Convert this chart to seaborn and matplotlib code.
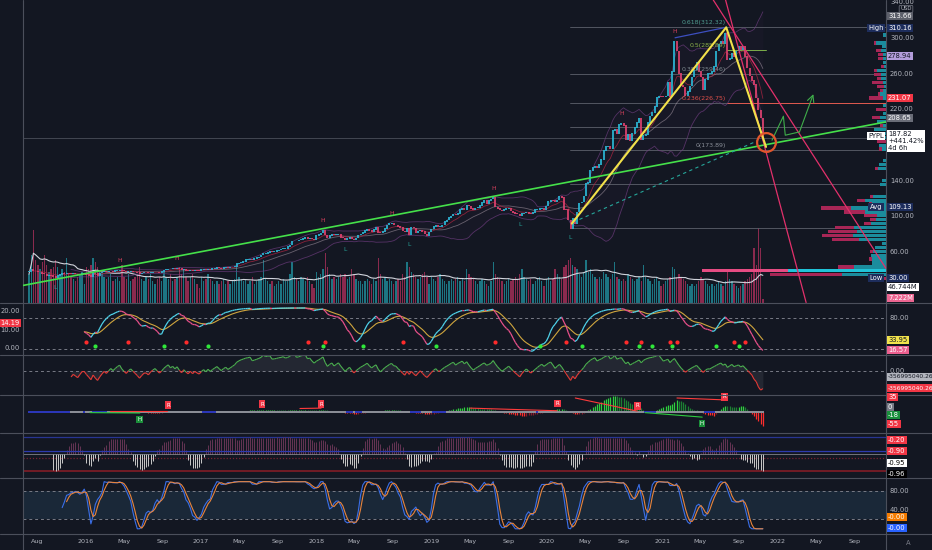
import numpy as np
import pandas as pd
import matplotlib
matplotlib.use("Agg")
import matplotlib.pyplot as plt
import matplotlib.dates as mdates
import matplotlib.transforms as mtrans
from matplotlib.collections import LineCollection
from matplotlib.lines import Line2D
from matplotlib import font_manager
import seaborn as sns

# ---------------- data (weekly PYPL, USD) ----------------
start_week = "2015-07-06"

close_2015 = [38.5, 40.5, 39.0, 38.7, 37.6, 37.9, 36.0, 35.5, 34.0, 34.6, 33.8, 32.8, 31.3,
              33.9, 35.0, 36.4, 36.0, 36.8, 36.0, 35.4, 36.0, 35.6, 35.0, 35.4, 36.2, 36.2]
close_2016 = [34.8, 34.0, 33.0, 36.1, 35.8, 34.0, 36.5, 37.6, 38.2, 38.0, 38.8, 39.0, 38.6,
              39.3, 39.4, 40.1, 39.5, 39.0, 38.3, 38.6, 38.8, 37.8, 37.7, 37.2, 36.0, 36.5,
              37.8, 37.8, 37.0, 37.2, 37.8, 37.9, 37.6, 37.1, 38.0, 40.0, 40.3, 41.3, 41.0,
              41.5, 41.2, 41.8, 41.6, 40.0, 40.7, 39.3, 39.1, 39.6, 39.0, 39.9, 39.6, 39.5]
close_2017 = [40.5, 40.8, 40.2, 40.9, 40.4, 41.5, 42.0, 42.5, 42.4, 42.0, 43.0, 43.2, 43.0,
              43.2, 43.5, 44.0, 47.0, 47.8, 48.5, 49.8, 51.5, 52.0, 52.5, 51.0, 53.0, 53.7,
              54.5, 56.6, 58.5, 58.5, 59.6, 60.5, 60.0, 61.0, 61.8, 62.3, 63.6, 64.0, 64.0,
              66.0, 68.0, 72.5, 72.6, 72.5, 73.5, 74.0, 75.0, 76.5, 74.5, 75.5, 74.7, 73.6]
close_2018 = [78.5, 80.0, 81.5, 84.5, 79.0, 76.5, 78.5, 80.5, 79.5, 80.0, 80.5, 76.5, 75.9,
              73.7, 75.5, 76.5, 74.5, 73.5, 76.0, 79.0, 80.5, 82.0, 84.0, 85.0, 84.5, 83.3,
              85.5, 87.5, 82.0, 81.5, 83.0, 86.5, 90.5, 92.2, 92.5, 90.5, 90.5, 88.5, 87.8,
              83.5, 83.0, 86.5, 79.5, 88.0, 87.0, 81.5, 83.8, 84.0, 83.0, 80.5, 78.0, 82.5]
close_2019 = [86.0, 88.5, 89.5, 88.5, 88.5, 90.5, 94.0, 96.0, 98.5, 100.5, 102.0, 101.5, 103.5,
              107.5, 109.0, 107.0, 112.5, 111.5, 108.5, 107.5, 109.5, 109.8, 112.0, 115.5,
              117.5, 114.5, 117.5, 119.5, 121.0, 110.5, 108.5, 107.0, 106.5, 107.5, 109.0,
              109.5, 106.0, 104.5, 103.5, 102.5, 101.0, 103.0, 104.0, 105.0, 103.5, 102.5,
              104.5, 107.5, 108.0, 108.5, 109.5, 108.0]
close_2020 = [111.5, 116.5, 118.0, 117.5, 116.0, 118.5, 122.5, 121.0, 108.0, 107.5, 96.0, 86.5,
              97.5, 92.0, 105.0, 115.0, 116.0, 123.0, 137.0, 138.0, 151.5, 155.0, 156.0, 154.0,
              158.0, 164.0, 174.0, 178.0, 178.5, 176.0, 196.0, 198.0, 193.0, 203.0, 204.5,
              201.5, 186.0, 192.0, 185.0, 193.0, 199.5, 205.0, 210.0, 186.0, 190.5, 192.0,
              205.0, 212.5, 216.0, 223.0, 233.0, 235.0]
close_2021 = [234.2, 234.0, 235.0, 250.0, 234.3, 262.0, 296.0, 285.0, 259.9, 247.0, 245.0,
              235.0, 240.0, 246.0, 256.0, 264.0, 273.0, 262.3, 256.0, 241.5, 253.0, 260.0,
              260.0, 262.0, 268.0, 285.0, 293.0, 296.0, 293.5, 305.0, 275.5, 276.5, 283.0,
              279.0, 285.0, 290.0, 287.0, 290.0, 279.0, 266.0, 257.0, 252.0, 248.0, 232.6,
              219.0, 210.0, 187.82]

# weekly volume, millions of shares
vol_2015 = [60, 100, 153, 90, 80, 70, 85, 100, 80, 65, 70, 75, 90, 75, 60, 70, 65, 95, 60,
            55, 50, 45, 55, 60, 65, 40]
vol_2016 = [75, 70, 80, 95, 85, 75, 65, 60, 55, 50, 55, 60, 45, 50, 55, 45, 80, 55, 50, 60,
            45, 50, 55, 60, 75, 50, 45, 55, 50, 60, 45, 40, 50, 55, 45, 65, 55, 50, 60, 45,
            50, 55, 75, 60, 70, 55, 45, 55, 60, 50, 40, 30]
vol_2017 = [55, 45, 50, 60, 50, 45, 40, 45, 40, 45, 50, 40, 45, 40, 45, 50, 80, 55, 50, 45,
            50, 40, 45, 55, 40, 45, 50, 55, 90, 50, 45, 40, 45, 35, 40, 45, 40, 50, 45, 45,
            60, 85, 55, 50, 45, 55, 50, 45, 55, 45, 40, 30]
vol_2018 = [65, 55, 60, 70, 105, 75, 60, 50, 55, 50, 55, 60, 55, 60, 50, 55, 70, 60, 50, 45,
            45, 40, 45, 50, 45, 40, 50, 45, 95, 60, 50, 55, 45, 50, 45, 40, 45, 50, 45, 60,
            55, 85, 75, 65, 60, 55, 50, 55, 60, 65, 55, 40]
vol_2019 = [55, 50, 45, 55, 60, 50, 45, 40, 45, 50, 45, 50, 55, 45, 50, 45, 70, 60, 55, 50,
            45, 40, 45, 50, 45, 40, 35, 45, 85, 60, 55, 50, 45, 40, 45, 50, 45, 50, 55, 50,
            60, 70, 55, 50, 45, 50, 40, 45, 50, 55, 45, 35]
vol_2020 = [50, 55, 45, 50, 70, 60, 55, 50, 75, 80, 90, 95, 80, 75, 70, 60, 55, 65, 90, 65,
            70, 60, 55, 50, 55, 50, 65, 60, 55, 50, 60, 85, 55, 50, 45, 50, 45, 60, 55, 50,
            45, 50, 55, 45, 80, 55, 50, 45, 40, 50, 55, 45]
vol_2021 = [35, 40, 45, 50, 55, 75, 70, 55, 60, 55, 50, 45, 40, 35, 40, 35, 40, 45, 55, 50,
            45, 40, 35, 40, 35, 40, 45, 40, 35, 45, 70, 50, 45, 40, 35, 30, 35, 40, 45, 50,
            55, 60, 115, 80, 157, 115, 7.222]

weekly_close = close_2015 + close_2016 + close_2017 + close_2018 + close_2019 + close_2020 + close_2021
weekly_volume = vol_2015 + vol_2016 + vol_2017 + vol_2018 + vol_2019 + vol_2020 + vol_2021

# drawings on the price pane (date, price)
trend_dates, trend_prices = ["2015-06-17", "2022-12-10"], [22.7, 205.8]
dash_dates, dash_prices = ["2020-03-25", "2021-10-31"], [93.6, 185.0]
zigzag_dates, zigzag_prices = ["2020-03-20", "2021-07-22", "2021-11-25"], [92.0, 311.7, 177.8]
blue_dates, blue_prices = ["2021-02-10", "2021-07-22"], [300.0, 311.7]
pink1_dates, pink1_prices = ["2021-07-20", "2022-04-01"], [342.3, 3.6]
pink2_dates, pink2_prices = ["2021-06-11", "2022-12-10"], [342.3, 41.7]
arrow_dates = ["2021-12-14", "2022-01-19", "2022-01-25", "2022-03-11", "2022-04-24"]
arrow_prices = [185.3, 212.2, 190.9, 194.6, 236.9]
circle_date, circle_price = "2021-11-25", 183.5
fib_start = "2020-03-15"
fib_levels = [312.32, 259.46, 226.75, 200.2, 173.89, 136.0, 86.6]
fib_names = ["0.618(312.32)", "0.5(285.89)", "0.382(259.46)", "0.236(226.75)", "0(173.89)"]
fib_label_prices = [312.32, 285.89, 259.46, 226.75, 173.89]
pivot_high_dates = ["2016-04-09", "2016-10-10", "2018-01-18", "2018-08-22", "2019-07-03",
                    "2020-08-20", "2021-02-07"]
pivot_low_dates = ["2015-09-26", "2018-03-27", "2018-11-15", "2019-10-08", "2020-03-12"]

# divergence marks on the squeeze pane (date, fraction of pane height)
div_red = [(("2016-03-18", .57), ("2016-09-15", .57)), (("2017-11-10", .64), ("2018-01-16", .65)),
           (("2019-05-03", .65), ("2020-02-02", .58)), (("2020-03-31", .92), ("2020-10-13", .57)),
           (("2021-02-16", .92), ("2021-07-16", .87))]
div_green = [(("2016-01-15", .53), ("2016-06-21", .52)), (("2020-11-07", .53), ("2021-05-07", .41))]
r_labels = [("2016-09-18", .73), ("2017-07-13", .76), ("2018-01-16", .76), ("2020-02-04", .77),
            ("2020-10-14", .71), ("2021-07-16", .95)]
h_labels = [("2016-06-21", .35), ("2021-05-06", .24)]

tick_dates = ["2015-08-01", "2016-01-01", "2016-05-01", "2016-09-01", "2017-01-01", "2017-05-01",
              "2017-09-01", "2018-01-01", "2018-05-01", "2018-09-01", "2019-01-01", "2019-05-01",
              "2019-09-01", "2020-01-01", "2020-05-01", "2020-09-01", "2021-01-01", "2021-05-01",
              "2021-09-01", "2022-01-01", "2022-05-01", "2022-09-01"]
tick_labels = ["Aug", "2016", "May", "Sep", "2017", "May", "Sep", "2018", "May", "Sep", "2019",
               "May", "Sep", "2020", "May", "Sep", "2021", "May", "Sep", "2022", "May", "Sep"]
price_ticks = [340, 300, 260, 220, 140, 100, 60]

# ---------------- style ----------------
sns.set_theme(style="dark")
installed = {f.name for f in font_manager.fontManager.ttflist}
narrow = "Liberation Sans Narrow" in installed
FONT = "Liberation Sans Narrow" if narrow else "DejaVu Sans"
FS = 5.8 if narrow else 4.9
plt.rcParams["font.family"] = [FONT, "DejaVu Sans"]

BG = "#131722"
TXT = "#b2b5be"
SEP = "#4b4f5b"
W, H = 932, 550


def dn(s):
    return mdates.date2num(pd.Timestamp(s))


x0, x1 = dn("2015-06-17"), dn("2022-12-10")
days_per_px = (x1 - x0) / 863

dates = pd.date_range(start_week, periods=len(weekly_close), freq="W-MON")
d = mdates.date2num(dates)
close = pd.Series(weekly_close, index=dates, dtype=float)
vol = pd.Series(weekly_volume, index=dates, dtype=float)
opens = close.shift(1).fillna(close.iloc[0])
c = close.to_numpy()
o = opens.to_numpy()
up = c >= o

fig = plt.figure(figsize=(9.32, 5.5), dpi=100, facecolor=BG)


def panel(top, bottom):
    ax = fig.add_axes([23 / W, 1 - bottom / H, 863 / W, (bottom - top) / H])
    ax.set_facecolor("none")
    for s in ax.spines.values():
        s.set_visible(False)
    ax.set_xticks([])
    ax.set_yticks([])
    ax.grid(False)
    return ax


def ftext(xp, yp, s, color=TXT, fc=None, ha="left", va="center", size=None, bbox=None, **kw):
    if fc:
        bbox = dict(boxstyle="square,pad=0.22", fc=fc, ec="none")
    return fig.text(xp / W, 1 - yp / H, s, color=color, ha=ha, va=va,
                    fontsize=size or FS, bbox=bbox, zorder=10, **kw)


def ytick(ax, v, s):
    tr = mtrans.blended_transform_factory(fig.transFigure, ax.transData)
    ax.text(890 / W, v, s, transform=tr, color=TXT, fontsize=FS, va="center", clip_on=False)


def colored_line(ax, x, y, colors, lw):
    pts = np.column_stack([x, y])
    segs = np.stack([pts[:-1], pts[1:]], axis=1)
    ok = ~np.isnan(segs).any(axis=(1, 2))
    ax.add_collection(LineCollection(segs[ok], colors=np.asarray(colors)[ok], linewidths=lw, zorder=3))


def stoch(s, n):
    lo = s.rolling(n).min()
    hi = s.rolling(n).max()
    return 100 * (s - lo) / (hi - lo)


# ---------------- main price pane ----------------
ax1 = panel(0, 302.5)
axv = ax1.twinx()
for s in axv.spines.values():
    s.set_visible(False)
axv.set_yticks([])
axv.set_facecolor("none")
ax1.set_zorder(3)
ax1.patch.set_visible(False)

vol_cols = np.where(up, "#1d7583", "#8a2a4e")
axv.bar(d, vol.to_numpy(), width=4.3, color=vol_cols, linewidth=0)
vol_ma = vol.rolling(20, min_periods=1).mean()
sns.lineplot(x=d, y=vol_ma.to_numpy(), ax=axv, color="#d1d4dc", linewidth=0.8)
axv.set_ylim(0, 640)
axv.set_xlim(x0, x1)

# bollinger / averages
sma20 = close.rolling(20).mean()
sd20 = close.rolling(20).std()
bb_up, bb_lo = sma20 + 2 * sd20, sma20 - 2 * sd20
ema9 = close.ewm(span=9, adjust=False).mean()
ax1.fill_between(d, bb_lo.to_numpy(), bb_up.to_numpy(), color="#7b3a8f", alpha=0.04, lw=0)
for ser, col, a in [(bb_up, "#6f3d80", .7), (bb_lo, "#6f3d80", .7), (sma20, "#b9a9b6", .5)]:
    ax1.plot(d, ser.to_numpy(), color=col, lw=0.6, alpha=a, zorder=2)
ax1.plot(d, ema9.to_numpy(), color="#a8243f", lw=0.6, alpha=0.8, zorder=2)

# current price line
ax1.axhline(c[-1], color="#4a4e5a", lw=0.6, zorder=1)

# fib grid
fs0 = dn(fib_start)
for lv in fib_levels:
    ax1.plot([fs0, x1], [lv, lv], color="#5d606b", lw=0.6, zorder=1)
ax1.plot([dn("2021-07-23"), x1], [226.75, 226.75], color="#e0594e", lw=0.7, zorder=1)
ax1.plot([dn("2021-07-23"), dn("2021-11-24")], [285.89, 285.89], color="#7cae4a", lw=0.7, zorder=1)
fib_cols = ["#4f9a8e", "#8db04a", "#7f8a90", "#e0504a", "#8a8f99"]
for name, p, col in zip(fib_names, fib_label_prices, fib_cols):
    ax1.annotate(name, (dn("2021-07-20"), p), xytext=(0, 1.5), textcoords="offset points",
                 ha="right", va="bottom", color=col, fontsize=FS - 0.4, zorder=4)

# candles
lo_b = np.minimum(o, c) - 0.35
hi_b = np.maximum(o, c) + 0.35
ax1.vlines(d, lo_b, hi_b, colors=np.where(up, "#2bb8d6", "#e0426f"), lw=1.25, zorder=3)

# pivot labels
for s in pivot_high_dates:
    i = int(np.argmin(np.abs(d - dn(s))))
    a, b = max(0, i - 3), i + 4
    j = a + int(np.argmax(c[a:b]))
    ax1.annotate("H", (d[j], max(c[j], o[j])), xytext=(0, 5), textcoords="offset points",
                 ha="center", va="bottom", color="#d9415e", fontsize=FS - 0.6, zorder=4)
for s in pivot_low_dates:
    i = int(np.argmin(np.abs(d - dn(s))))
    a, b = max(0, i - 3), i + 4
    j = a + int(np.argmin(c[a:b]))
    ax1.annotate("L", (d[j], min(c[j], o[j])), xytext=(0, -5), textcoords="offset points",
                 ha="center", va="top", color="#26a69a", fontsize=FS - 0.6, zorder=4)

# drawings
ax1.plot([dn(s) for s in trend_dates], trend_prices, color="#45e04a", lw=1.2, zorder=5)
ax1.plot([dn(s) for s in dash_dates], dash_prices, color="#26a69a", lw=0.8, ls=(0, (3, 3)), zorder=5)
ax1.plot([dn(s) for s in blue_dates], blue_prices, color="#3d4fc0", lw=0.9, zorder=5)
ax1.plot([dn(s) for s in pink1_dates], pink1_prices, color="#e3306b", lw=0.9, zorder=5)
ax1.plot([dn(s) for s in pink2_dates], pink2_prices, color="#e3306b", lw=0.9, zorder=5)
ax1.plot([dn(s) for s in zigzag_dates], zigzag_prices, color="#f2e14a", lw=1.5, zorder=6)
ad = [dn(s) for s in arrow_dates]
ax1.plot(ad[:-1], arrow_prices[:-1], color="#3fae4a", lw=0.8, zorder=6)
ax1.annotate("", xy=(ad[-1], arrow_prices[-1]), xytext=(ad[-2], arrow_prices[-2]),
             arrowprops=dict(arrowstyle="->", color="#3fae4a", lw=0.8, shrinkA=0, shrinkB=0), zorder=6)
ax1.plot([dn(circle_date)], [circle_price], marker="o", ms=13.5, mfc="none", mec="#e2562c",
         mew=1.6, zorder=7)

# volume profile on the right edge
edges = np.arange(28.0, 318.0, 4.4)
v_arr = vol.to_numpy()
up_hist, _ = np.histogram(c, bins=edges, weights=np.where(up, v_arr, 0.0))
dn_hist, _ = np.histogram(c, bins=edges, weights=np.where(up, 0.0, v_arr))
tot = up_hist + dn_hist
scale = 184 * days_per_px / tot.max()
mids = (edges[:-1] + edges[1:]) / 2
poc = int(np.argmax(tot))
up_len, dn_len = up_hist * scale, dn_hist * scale
pc = np.array(["#a82656"] * len(mids), dtype=object)
tc = np.array(["#1b8c9d"] * len(mids), dtype=object)
pc[poc], tc[poc] = "#e64c83", "#20c3d8"
ax1.barh(mids, dn_len, left=x1 - up_len - dn_len, height=3.6, color=list(pc), lw=0, zorder=4)
ax1.barh(mids, up_len, left=x1 - up_len, height=3.6, color=list(tc), lw=0, zorder=4)

ax1.set_xlim(x0, x1)
ax1.set_ylim(3.6, 342.3)
for v in price_ticks:
    ytick(ax1, v, f"{v:.2f}")

# ---------------- pane 2: smoothed stochastic ----------------
ax2 = panel(303, 354.5)
k2 = stoch(close, 26).ewm(span=9, adjust=False).mean()
d2 = k2.ewm(span=9, adjust=False).mean()
for lv in (80, 20):
    ax2.axhline(lv, color="#787b86", lw=0.7, ls=(0, (3, 3)))
ax2.plot(d, d2.to_numpy(), color="#cfa53e", lw=0.8, zorder=2)
k_rise = np.diff(k2.to_numpy()) >= 0
colored_line(ax2, d, k2.to_numpy(), np.where(k_rise, "#4fd3ea", "#e8508a"), 0.9)
diff2 = (k2 - d2).to_numpy()
cu = np.where((diff2[1:] > 0) & (diff2[:-1] <= 0))[0] + 1
cd = np.where((diff2[1:] < 0) & (diff2[:-1] >= 0))[0] + 1
ax2.scatter(d[cd], np.full(len(cd), 33.0), s=9, color="#ff2b2b", lw=0, zorder=4)
ax2.scatter(d[cu], np.full(len(cu), 25.0), s=9, color="#2fe83a", lw=0, zorder=4)
ax2.set_xlim(x0, x1)
ax2.set_ylim(8.7, 109.7)
ytick(ax2, 80, "80.00")

# ---------------- pane 3: OBV oscillator ----------------
ax3 = panel(355, 394)
obv = (np.sign(close.diff()).fillna(0) * vol).cumsum()
osc3 = obv - obv.ewm(span=20, adjust=False).mean()
osc3.iloc[:19] = np.nan
y3 = osc3.to_numpy()
ax3.axhline(0, color="#787b86", lw=0.7, ls=(0, (3, 3)))
ax3.fill_between(d, y3, 0, color="#9598a1", alpha=0.13, lw=0)
mid3 = (y3[:-1] + y3[1:]) / 2
colored_line(ax3, d, y3, np.where(mid3 >= 0, "#4caf50", "#e53935"), 0.8)
span3 = -np.nanmin(y3) / (0.59 - 0.10)
ax3.set_xlim(x0, x1)
ax3.set_ylim(-0.59 * span3, 0.41 * span3)
ytick(ax3, 0, "0.00")

# ---------------- pane 4: squeeze momentum ----------------
ax4 = panel(395, 432.5)
L = 20
hh, ll, sm = close.rolling(L).max(), close.rolling(L).min(), close.rolling(L).mean()
src = close - ((hh + ll) / 2 + sm) / 2
xs = np.arange(L)
val = src.rolling(L).apply(lambda w: np.polyval(np.polyfit(xs, w, 1), L - 1), raw=True)
v4 = val.to_numpy()
dv4 = np.diff(v4, prepend=np.nan)
cols4 = np.where(v4 >= 0, np.where(dv4 > 0, "#2fd03f", "#1c7f33"),
                 np.where(dv4 < 0, "#ff2d2d", "#8b1a2c"))
ax4.vlines(d, 0, np.nan_to_num(v4), colors=cols4, lw=0.9)
bb_w = 2 * close.rolling(20).std()
kc_w = 3.0 * close.diff().abs().rolling(20).mean()
sq_on = ((bb_w < kc_w) | bb_w.isna()).to_numpy()
ax4.scatter(d, np.zeros_like(d), marker="s", s=3.2, c=np.where(sq_on, "#2b36b8", "#8a8d96"),
            lw=0, zorder=4)
blend4 = mtrans.blended_transform_factory(ax4.transData, ax4.transAxes)
for (s0, f0), (s1, f1) in div_red:
    ax4.plot([dn(s0), dn(s1)], [f0, f1], transform=blend4, color="#ff3b3b", lw=0.8, zorder=5)
for (s0, f0), (s1, f1) in div_green:
    ax4.plot([dn(s0), dn(s1)], [f0, f1], transform=blend4, color="#2ecc40", lw=0.8, zorder=5)
for s, f in r_labels:
    ax4.text(dn(s), f, "R", transform=blend4, ha="center", va="center", color="white",
             fontsize=FS - 1, zorder=6, bbox=dict(boxstyle="square,pad=0.25", fc="#f23645", ec="none"))
for s, f in h_labels:
    ax4.text(dn(s), f, "H", transform=blend4, ha="center", va="center", color="white",
             fontsize=FS - 1, zorder=6, bbox=dict(boxstyle="square,pad=0.25", fc="#1b8e3a", ec="none"))
lim4 = np.nanmax(np.abs(v4))
span4 = lim4 / 0.43
ax4.set_xlim(x0, x1)
ax4.set_ylim(-0.54 * span4, 0.46 * span4)

# ---------------- pane 5: trend correlation ----------------
ax5 = panel(433, 477)
t_idx = pd.Series(np.arange(len(close)), index=close.index, dtype=float)
corr5 = close.rolling(12).corr(t_idx).to_numpy()
ax5.axhline(1, color="#283593", lw=0.9)
ax5.axhline(-0.25, color="#7a2233", lw=0.9, ls=(0, (1, 1.5)))
ax5.axhline(-1, color="#7a1c26", lw=1.3)
ax5.vlines(d, 0, np.nan_to_num(corr5), colors=np.where(corr5 >= 0, "#653454", "#c9c9c9"), lw=0.7)
ax5.axhline(0.18, color="#2d3bb0", lw=0.9)
ax5.axhline(0, color="#9598a1", lw=0.5)
ax5.set_xlim(x0, x1)
ax5.set_ylim(-1.35, 1.235)

# ---------------- pane 6: stochastic ----------------
ax6 = panel(478, 533.5)
k6 = stoch(close, 14).rolling(3).mean()
d6 = k6.rolling(3).mean()
ax6.axhspan(20, 80, color="#1a2838", lw=0)
for lv in (80, 20):
    ax6.axhline(lv, color="#787b86", lw=0.7, ls=(0, (3, 3)))
sns.lineplot(x=d, y=k6.to_numpy(), ax=ax6, color="#3b6fe8", linewidth=0.8)
sns.lineplot(x=d, y=d6.to_numpy(), ax=ax6, color="#e8843c", linewidth=0.8)
ax6.set_xlim(x0, x1)
ax6.set_ylim(-10, 107.8)
ax6.set_xlabel("")
ax6.set_ylabel("")
ax6.set_yticks([])
ax6.set_xticks([dn(s) for s in tick_dates])
ax6.set_xticklabels(tick_labels, fontsize=FS - 0.3, color=TXT)
ax6.tick_params(axis="x", length=0, pad=4)
ytick(ax6, 80, "80.00")
ytick(ax6, 40, "40.00")

for ax in (axv, ax2, ax3, ax4, ax5):
    ax.set_xlabel("")
    ax.set_ylabel("")

# ---------------- separators ----------------
for yp in (302.5, 354.5, 394.5, 432.5, 477.5, 533.5):
    fig.add_artist(Line2D([0, 1], [1 - yp / H] * 2, transform=fig.transFigure, color=SEP, lw=0.8))
for xp in (23, 886):
    fig.add_artist(Line2D([xp / W] * 2, [0, 1], transform=fig.transFigure, color=SEP, lw=0.8))

# ---------------- axis value tags ----------------
NAVY = "#1d2d5c"
ftext(906, 9, "USD", size=FS - 1, ha="center",
      bbox=dict(boxstyle="round,pad=0.2", fc="none", ec="#787b86", lw=0.5))
ftext(888, 16, "313.66", color="white", fc="#5d606b")
ftext(876, 28, "High", color="white", fc=NAVY, ha="center")
ftext(888, 28, "310.16", color="white", fc=NAVY)
ftext(888, 56, "278.94", color=BG, fc="#b39ddb")
ftext(888, 98, "231.07", color="white", fc="#f23645")
ftext(888, 118, "208.65", color="white", fc="#6a6d78")
ftext(876, 136, "PYPL", color=BG, fc="white", ha="center")
ftext(888, 131.5, "187.82\n+441.42%\n4d 6h", color=BG, fc="white", va="top", linespacing=1.15)
ftext(876, 207, "Avg", color="white", fc=NAVY, ha="center")
ftext(888, 207, "109.13", color="white", fc=NAVY)
ftext(876, 278, "Low", color="white", fc=NAVY, ha="center")
ftext(888, 278, "30.00", color="white", fc=NAVY)
ftext(888, 287, "46.744M", color=BG, fc="white")
ftext(888, 298, "7.222M", color="white", fc="#ec6591")

ftext(888, 340, "33.95", color=BG, fc="#f2e34c")
ftext(888, 350, "16.57", color="white", fc="#ec5f8f")
ftext(20, 311, "20.00", ha="right")
ftext(20, 323, "14.19", color="white", fc="#f23645", ha="right")
ftext(20, 330, "10.00", ha="right")
ftext(20, 348, "0.00", ha="right")

ftext(888, 377, "-356995040.26", color=BG, fc="#b2b5be", size=FS - 0.6)
ftext(888, 388, "-356995040.26", color="white", fc="#f23645", size=FS - 0.6)

ftext(888, 397, "35", color="white", fc="#f23645")
ftext(888, 407, "0", color="white", fc="#787b86")
ftext(888, 415, "-18", color="white", fc="#1a8f3c")
ftext(888, 424, "-55", color="white", fc="#f23645")

ftext(888, 440, "-0.20", color="white", fc="#f23645")
ftext(888, 451, "-0.90", color="white", fc="#f23645")
ftext(888, 463, "-0.95", color="black", fc="white")
ftext(888, 474, "-0.96", color="white", fc="black")

ftext(888, 517, "-0.00", color="white", fc="#f57c00")
ftext(888, 528, "-0.00", color="white", fc="#2962ff")
ftext(908, 543, "A", color="#787b86", ha="center")

fig.savefig("out.png", dpi=100, facecolor=BG)
